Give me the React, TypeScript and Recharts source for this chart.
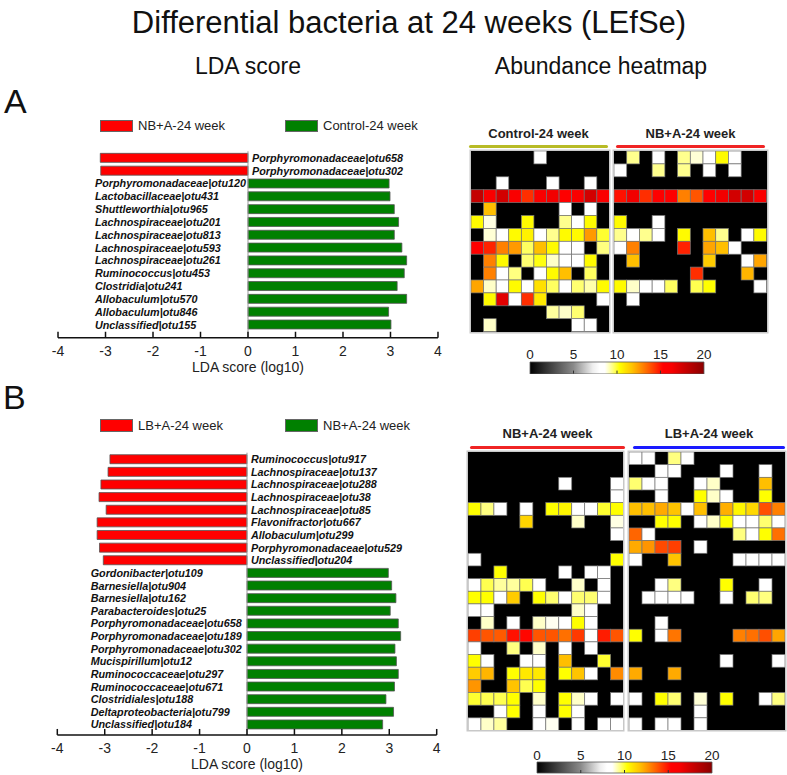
import React from 'react';
import {
  BarChart,
  Bar,
  Cell,
  XAxis,
  YAxis,
  ReferenceLine,
  LabelList,
  ScatterChart,
  Scatter,
} from 'recharts';

const FONT = '"Liberation Sans", Arial, Helvetica, sans-serif';

// ---------- panel A: LDA scores ----------
const taxaA = [
  'Porphyromonadaceae|otu658',
  'Porphyromonadaceae|otu302',
  'Porphyromonadaceae|otu120',
  'Lactobacillaceae|otu431',
  'Shuttleworthia|otu965',
  'Lachnospiraceae|otu201',
  'Lachnospiraceae|otu813',
  'Lachnospiraceae|otu593',
  'Lachnospiraceae|otu261',
  'Ruminococcus|otu453',
  'Clostridia|otu241',
  'Allobaculum|otu570',
  'Allobaculum|otu846',
  'Unclassified|otu155',
];
const ldaA = [-3.11, -3.1, 2.97, 2.99, 3.08, 3.17, 3.08, 3.24, 3.34, 3.29, 3.14, 3.34, 2.96, 3.01];

// ---------- panel B: LDA scores ----------
const taxaB = [
  'Ruminococcus|otu917',
  'Lachnospiraceae|otu137',
  'Lachnospiraceae|otu288',
  'Lachnospiraceae|otu38',
  'Lachnospiraceae|otu85',
  'Flavonifractor|otu667',
  'Allobaculum|otu299',
  'Porphyromonadaceae|otu529',
  'Unclassified|otu204',
  'Gordonibacter|otu109',
  'Barnesiella|otu904',
  'Barnesiella|otu162',
  'Parabacteroides|otu25',
  'Porphyromonadaceae|otu658',
  'Porphyromonadaceae|otu189',
  'Porphyromonadaceae|otu302',
  'Mucispirillum|otu12',
  'Ruminococcaceae|otu297',
  'Ruminococcaceae|otu671',
  'Clostridiales|otu188',
  'Deltaproteobacteria|otu799',
  'Unclassified|otu184',
];
const ldaB = [
  -2.89, -2.93, -3.08, -3.12, -2.97, -3.16, -3.16, -3.11, -3.03,
  2.98, 3.05, 3.14, 3.02, 3.19, 3.24, 3.12, 3.15, 3.19, 3.11, 2.93, 3.09, 2.86,
];

const ldaTicks = [-4, -3, -2, -1, 0, 1, 2, 3, 4];
const legendA = ['NB+A-24 week', 'Control-24 week'];
const legendB = ['LB+A-24 week', 'NB+A-24 week'];

// ---------- heatmaps (rows = taxa, columns = samples) ----------
const heatA_control = [
  [0, 0, 0, 0, 0, 8.5, 0, 0, 0, 0, 0],
  [0, 0, 0, 0, 0, 0, 0, 0, 0, 0, 0],
  [0, 0, 8.5, 0, 0, 0, 8.5, 0, 0, 8.5, 0],
  [18, 16, 17.5, 16, 14.5, 16, 16.5, 15.5, 16, 17.5, 16],
  [0, 11.8, 0, 0, 0, 0, 0, 8.5, 0, 8.5, 0],
  [10.4, 8.8, 0, 0, 10.4, 0, 0, 9.4, 8.5, 10.4, 0],
  [0, 8.9, 8.5, 10.4, 10.6, 8.5, 9.4, 10.4, 10.4, 12.5, 10],
  [15.5, 14.7, 13, 12.5, 9.7, 11.8, 10.4, 8.5, 8.5, 0, 9.5],
  [0, 13, 10.4, 0, 9.6, 10.2, 9, 8.5, 8.5, 10.4, 0],
  [0, 13, 8.5, 9.5, 0, 8.5, 10.4, 11.8, 0, 9.7, 0],
  [12.3, 9, 8.5, 10.4, 8.5, 11, 9.7, 8.5, 9.6, 9.2, 10.4],
  [0, 10.4, 17, 8.5, 14.5, 10.8, 0, 0, 0, 0, 8.5],
  [0, 0, 0, 0, 0, 0, 9.3, 9, 9.6, 0, 0],
  [0, 9, 0, 0, 0, 0, 0, 0, 8.5, 8.5, 0],
];
const heatA_nb = [
  [0, 9.4, 0, 8.5, 0, 9.4, 8.9, 8.5, 10.4, 8.5, 0, 0],
  [8.5, 0, 0, 9.4, 0, 9.4, 0, 8.5, 0, 8.5, 0, 0],
  [0, 0, 0, 0, 0, 0, 0, 0, 0, 0, 0, 0],
  [15, 16.5, 14.5, 15.5, 15.5, 13, 13.8, 15.3, 16.5, 17.5, 17.5, 16],
  [0, 0, 0, 0, 0, 0, 0, 0, 0, 0, 0, 0],
  [10.4, 0, 0, 8.5, 0, 0, 0, 0, 0, 0, 0, 0],
  [9.4, 8.5, 9.4, 8.5, 0, 10.4, 0, 11.8, 9.4, 0, 8.5, 10.4],
  [8.5, 13, 0, 0, 0, 14.7, 0, 12.3, 11.8, 8.5, 0, 0],
  [0, 11.8, 0, 0, 0, 0, 0, 11.5, 0, 0, 8.5, 12.3],
  [0, 0, 0, 0, 0, 0, 14.5, 0, 0, 0, 12, 0],
  [10.4, 9, 8.5, 8.5, 9.7, 0, 9.8, 10.3, 0, 0, 0, 8.5],
  [0, 8.5, 0, 0, 0, 0, 0, 0, 0, 0, 0, 0],
  [0, 0, 0, 0, 0, 0, 0, 0, 0, 0, 0, 0],
  [0, 0, 0, 0, 0, 0, 0, 0, 0, 0, 0, 0],
];
const heatB_nb = [
  [0, 0, 0, 0, 0, 0, 0, 0, 0, 0, 0, 0],
  [0, 0, 0, 0, 0, 0, 0, 0, 0, 0, 0, 0],
  [0, 0, 0, 0, 0, 0, 0, 8.5, 0, 0, 0, 8.5],
  [0, 0, 0, 0, 0, 0, 0, 0, 0, 0, 0, 8.5],
  [10.3, 9.5, 8.5, 0, 8.5, 0, 10.3, 10.5, 8.5, 8.5, 10, 10.3],
  [0, 0, 0, 0, 11.3, 0, 0, 0, 9, 0, 0, 8.8],
  [0, 0, 0, 0, 0, 0, 0, 0, 0, 0, 0, 8.5],
  [0, 0, 0, 0, 0, 0, 0, 0, 0, 0, 0, 0],
  [8.5, 0, 0, 0, 0, 0, 0, 0, 0, 0, 0, 10.3],
  [0, 0, 10.3, 0, 0, 0, 0, 8.5, 0, 8.5, 8.5, 0],
  [8.5, 9.8, 9.3, 9.3, 9.8, 8.5, 0, 0, 9, 0, 8.5, 0],
  [10.3, 10.3, 8.5, 11.5, 0, 10.3, 9.6, 8.5, 9.6, 9.6, 8.5, 0],
  [8.5, 8.6, 0, 0, 0, 0, 0, 0, 9, 8.5, 0, 0],
  [0, 9, 0, 8.5, 0, 9, 8.7, 8.5, 10.3, 8.5, 0, 0],
  [14.2, 13.8, 13.7, 15, 15.2, 13.8, 13.8, 13.3, 14.3, 8.5, 14.8, 13.8],
  [8.5, 0, 0, 9.5, 0, 9, 0, 8.5, 0, 8.5, 0, 0],
  [10.3, 8.5, 0, 0, 8.5, 8.5, 0, 11.8, 0, 0, 10, 0],
  [11.5, 12, 0, 10.3, 10.8, 10.8, 0, 10.3, 11.7, 8.5, 0, 12.8],
  [12.6, 0, 0, 11.7, 9.8, 10.3, 0, 0, 0, 0, 0, 0],
  [10, 9.8, 9.8, 10.3, 0, 9, 0, 10.3, 9, 8.5, 0, 8.5],
  [0, 0, 8.5, 10.3, 0, 8.5, 0, 10.3, 8.5, 0, 0, 0],
  [8.5, 9, 9.3, 0, 0, 8.5, 8.7, 0, 8.5, 0, 8.5, 8.5],
];
const heatB_lb = [
  [8.5, 8.5, 0, 9.5, 8.5, 0, 0, 0, 0, 0, 0, 0],
  [0, 0, 8.5, 8.5, 0, 0, 0, 8.5, 0, 0, 8.5, 0],
  [9.6, 8.5, 8.5, 0, 0, 8.5, 9, 0, 0, 0, 11.8, 0],
  [0, 0, 8.5, 0, 0, 10.3, 9, 8.5, 0, 0, 10.3, 0],
  [11.8, 11.8, 12.2, 11.7, 8.5, 11.8, 0, 12.1, 10.5, 11.2, 13.9, 13],
  [0, 0, 10.3, 10.3, 0, 8.5, 9, 10.3, 8.5, 8.5, 9.6, 8.5],
  [13.5, 8.5, 0, 0, 0, 0, 0, 0, 9.5, 8.5, 10.3, 13.3],
  [12.2, 12.6, 14, 14.2, 0, 8.5, 0, 0, 0, 0, 0, 0],
  [8.5, 0, 0, 11.7, 0, 0, 0, 0, 8.5, 8.5, 8.5, 8.5],
  [0, 0, 0, 0, 0, 0, 0, 0, 0, 0, 0, 0],
  [0, 0, 8.5, 9.5, 0, 0, 0, 10.3, 0, 0, 8.5, 0],
  [0, 8.5, 8.5, 8.5, 8.5, 0, 0, 8.5, 0, 9.6, 9.5, 0],
  [0, 0, 0, 0, 0, 0, 0, 0, 0, 0, 0, 0],
  [0, 0, 8.5, 0, 0, 0, 0, 0, 0, 0, 0, 0],
  [10.3, 0, 8.5, 13.2, 0, 0, 0, 0, 13, 13.3, 13.9, 12.3],
  [0, 0, 0, 0, 0, 0, 0, 0, 0, 0, 0, 0],
  [0, 0, 0, 0, 0, 0, 0, 8.5, 0, 0, 0, 8.5],
  [12.2, 0, 0, 12.2, 0, 0, 0, 0, 0, 0, 0, 0],
  [0, 0, 0, 0, 0, 0, 0, 0, 0, 0, 0, 0],
  [8.5, 0, 10.3, 9.6, 0, 8.9, 0, 10.3, 0, 0, 8.5, 9.5],
  [0, 0, 0, 0, 0, 8.5, 0, 0, 0, 0, 0, 0],
  [8.5, 0, 8.5, 8.5, 0, 8.5, 0, 0, 0, 0, 0, 0],
];

const colorTicks = [0, 5, 10, 15, 20];
const colorbarData = [{ name: 'abundance', max: 20 }];

// colour map of the heatmap (value -> colour)
const HOT_STOPS: [number, string][] = [
  [0, '#000000'],
  [5, '#8a8a8a'],
  [7.2, '#eeeeee'],
  [8, '#ffffff'],
  [8.6, '#ffffff'],
  [9, '#ffffc8'],
  [9.5, '#ffff80'],
  [10.3, '#ffff00'],
  [11, '#ffe000'],
  [11.7, '#ffc400'],
  [12.3, '#ffa500'],
  [13, '#ff8000'],
  [14, '#ff4a00'],
  [15.3, '#ff0000'],
  [16.3, '#f80000'],
  [17.5, '#d20000'],
  [20, '#8b0000'],
];

const hexToRgb = (h: string) => [1, 3, 5].map((i) => parseInt(h.slice(i, i + 2), 16));

const hotColor = (v: number) => {
  if (v <= HOT_STOPS[0][0]) return HOT_STOPS[0][1];
  for (let i = 1; i < HOT_STOPS.length; i++) {
    const [v1, c1] = HOT_STOPS[i];
    if (v <= v1) {
      const [v0, c0] = HOT_STOPS[i - 1];
      const t = (v - v0) / (v1 - v0);
      const a = hexToRgb(c0);
      const b = hexToRgb(c1);
      const m = a.map((x, k) => Math.round(x + (b[k] - x) * t));
      return `rgb(${m[0]},${m[1]},${m[2]})`;
    }
  }
  return HOT_STOPS[HOT_STOPS.length - 1][1];
};

// ---------- LDA bar chart ----------
const LdaTick = (props: any) => {
  const { x, y, payload } = props;
  return (
    <g>
      <line x1={x} x2={x} y1={y} y2={y - 6} stroke="#111" strokeWidth={1.5} />
      <text x={x} y={y + 18} textAnchor="middle" fontSize={14} fill="#222" fontFamily={FONT}>
        {payload.value}
      </text>
    </g>
  );
};

interface LdaChartProps {
  taxa: string[];
  scores: number[];
  top: number;
  marginTop: number;
  rowBand: number;
  axisPad: number;
  plotLeft: number;
  plotRight: number;
  greenLabelX: number;
}

const LdaChart = ({ taxa, scores, top, marginTop, rowBand, axisPad, plotLeft, plotRight, greenLabelX }: LdaChartProps) => {
  const width = 460;
  const data = taxa.map((name, i) => ({ name, score: scores[i] }));
  const plotH = taxa.length * rowBand + axisPad;
  const height = marginTop + plotH + 36 + 4;
  const zeroX = (plotLeft + plotRight) / 2;

  const renderName = (props: any) => {
    const vb = props.viewBox && props.viewBox.x !== undefined ? props.viewBox : props;
    const x0 = Math.min(vb.x, vb.x + vb.width);
    const isRed = x0 < zeroX - 1;
    const tx = isRed ? zeroX + 4 : greenLabelX;
    return (
      <text
        x={tx}
        y={vb.y + vb.height / 2}
        dominantBaseline="central"
        fontSize={10.8}
        fontWeight="bold"
        fontStyle="italic"
        fill="#111"
        fontFamily={FONT}
      >
        {props.value}
      </text>
    );
  };

  return (
    <div style={{ position: 'absolute', left: 0, top }}>
      <BarChart
        width={width}
        height={height}
        layout="vertical"
        data={data}
        margin={{ top: marginTop, right: width - plotRight, bottom: 4, left: plotLeft }}
        barCategoryGap="16%"
      >
        <XAxis
          type="number"
          domain={[-4, 4]}
          ticks={ldaTicks}
          interval={0}
          height={36}
          tickSize={0}
          tickMargin={0}
          tickLine={false}
          axisLine={{ stroke: '#111', strokeWidth: 1.5 }}
          tick={<LdaTick />}
          label={{
            value: 'LDA score (log10)',
            position: 'insideBottom',
            offset: 2,
            fontSize: 14,
            fill: '#222',
            fontFamily: FONT,
          }}
        />
        <YAxis type="category" dataKey="name" hide padding={{ top: 0, bottom: axisPad }} />
        <ReferenceLine x={0} stroke="#9a9a9a" strokeWidth={1} />
        <Bar dataKey="score" isAnimationActive={false} stroke="#555" strokeWidth={0.8}>
          {data.map((d) => (
            <Cell key={d.name} fill={d.score < 0 ? '#ff0000' : '#008000'} />
          ))}
          <LabelList dataKey="name" content={renderName} />
        </Bar>
      </BarChart>
    </div>
  );
};

const LdaLegend = ({ labels, top }: { labels: string[]; top: number }) => {
  const items = [
    { label: labels[0], color: '#ff0000', x: 100 },
    { label: labels[1], color: '#008000', x: 285 },
  ];
  return (
    <>
      {items.map((it) => (
        <div key={it.label} style={{ position: 'absolute', left: it.x, top, height: 12, display: 'flex', alignItems: 'center' }}>
          <div style={{ width: 31, height: 10.5, background: it.color, border: '1px solid #666' }} />
          <span style={{ marginLeft: 5, fontSize: 13, color: '#222', whiteSpace: 'nowrap', lineHeight: '12px' }}>{it.label}</span>
        </div>
      ))}
    </>
  );
};

// ---------- heatmap ----------
interface HeatmapProps {
  matrix: number[][];
  left: number;
  top: number;
  width: number;
  height: number;
}

const Heatmap = ({ matrix, left, top, width, height }: HeatmapProps) => {
  const nRows = matrix.length;
  const nCols = matrix[0].length;
  const cellW = width / nCols;
  const cellH = height / nRows;
  const cells = matrix
    .flatMap((row, r) => row.map((v, c) => ({ col: c + 0.5, row: r + 0.5, v })))
    .sort((a, b) => (a.v > 0 ? 1 : 0) - (b.v > 0 ? 1 : 0));

  const shape = (p: any) => {
    const v = p.payload ? p.payload.v : p.v;
    return (
      <rect
        x={p.cx - cellW / 2}
        y={p.cy - cellH / 2}
        width={cellW}
        height={cellH}
        fill={hotColor(v)}
        stroke={v > 0 ? '#777' : hotColor(v)}
        strokeWidth={0.7}
      />
    );
  };

  return (
    <div
      style={{
        position: 'absolute',
        left,
        top,
        width,
        height,
        background: '#000',
        boxShadow: '0 0 0 1.5px #c8c8c8',
      }}
    >
      <ScatterChart width={width} height={height} margin={{ top: 0, right: 0, bottom: 0, left: 0 }}>
        <XAxis type="number" dataKey="col" domain={[0, nCols]} hide />
        <YAxis type="number" dataKey="row" domain={[0, nRows]} reversed hide />
        <Scatter data={cells} shape={shape} isAnimationActive={false} />
      </ScatterChart>
    </div>
  );
};

const GroupHeader = ({ label, color, x1, x2, y }: { label: string; color: string; x1: number; x2: number; y: number }) => (
  <>
    <div
      style={{
        position: 'absolute',
        left: x1 - 30,
        width: x2 - x1 + 60,
        top: y - 20,
        textAlign: 'center',
        fontSize: 13,
        fontWeight: 'bold',
        color: '#222',
        lineHeight: '14px',
      }}
    >
      {label}
    </div>
    <div style={{ position: 'absolute', left: x1, width: x2 - x1, top: y - 1.5, height: 3, background: color, borderRadius: 2 }} />
  </>
);

// ---------- colour bar ----------
const ColorBar = ({ id, left, top, width, barH }: { id: string; left: number; top: number; width: number; barH: number }) => {
  const CbTick = (props: any) => {
    const { x, y, payload } = props;
    const inner = payload.value > colorTicks[0] && payload.value < colorTicks[colorTicks.length - 1];
    return (
      <g>
        <text x={x} y={y - 2.5} textAnchor="middle" fontSize={13.5} fill="#222" fontFamily={FONT}>
          {payload.value}
        </text>
        {inner && <line x1={x} x2={x} y1={y + barH - 3} y2={y + barH} stroke="#333" strokeWidth={1} />}
      </g>
    );
  };
  const maxV = colorTicks[colorTicks.length - 1];
  return (
    <div style={{ position: 'absolute', left: left - 12, top: top - 16 }}>
      <BarChart
        width={width + 24}
        height={16 + barH + 1}
        layout="vertical"
        data={colorbarData}
        margin={{ top: 0, right: 12, bottom: 1, left: 12 }}
        barCategoryGap={0}
      >
        <defs>
          <linearGradient id={id} x1="0" y1="0" x2="1" y2="0">
            {HOT_STOPS.map(([v, c]) => (
              <stop key={v} offset={v / maxV} stopColor={c} />
            ))}
          </linearGradient>
        </defs>
        <XAxis
          type="number"
          orientation="top"
          domain={[0, maxV]}
          ticks={colorTicks}
          interval={0}
          height={16}
          tickSize={0}
          tickMargin={0}
          axisLine={false}
          tickLine={false}
          tick={<CbTick />}
        />
        <YAxis type="category" dataKey="name" hide />
        <Bar dataKey="max" fill={`url(#${id})`} stroke="#555" strokeWidth={0.8} isAnimationActive={false} />
      </BarChart>
    </div>
  );
};

const textStyle = (left: number, top: number, size: number, width = 0): React.CSSProperties => ({
  position: 'absolute',
  left: width ? left - width / 2 : left,
  width: width || undefined,
  top,
  fontSize: size,
  lineHeight: `${size}px`,
  textAlign: width ? 'center' : 'left',
  color: '#111',
  whiteSpace: 'nowrap',
});

export default function App() {
  return (
    <div
      style={{
        position: 'absolute',
        left: 0,
        top: 0,
        width: 787,
        height: 775,
        background: '#fff',
        fontFamily: FONT,
        overflow: 'hidden',
      }}
    >
      <div style={textStyle(409, 7, 31, 700)}>Differential bacteria at 24 weeks (LEfSe)</div>
      <div style={textStyle(248, 55, 23, 200)}>LDA score</div>
      <div style={textStyle(601, 55, 23, 300)}>Abundance heatmap</div>
      <div style={textStyle(4, 84, 34)}>A</div>
      <div style={textStyle(3, 380, 34)}>B</div>

      {/* panel A */}
      <LdaLegend labels={legendA} top={120} />
      <LdaChart
        taxa={taxaA}
        scores={ldaA}
        top={140}
        marginTop={11.3}
        rowBand={12.82}
        axisPad={7}
        plotLeft={58}
        plotRight={438}
        greenLabelX={95}
      />
      <GroupHeader label="Control-24 week" color="#b8bb26" x1={469} x2={608} y={146.7} />
      <GroupHeader label="NB+A-24 week" color="#f02424" x1={616} x2={765} y={146.7} />
      <Heatmap matrix={heatA_control} left={470.7} top={151.2} width={138.4} height={180.6} />
      <Heatmap matrix={heatA_nb} left={614} top={151.2} width={152.6} height={180.6} />
      <ColorBar id="hotA" left={530} top={361.7} width={174} barH={11.6} />

      {/* panel B */}
      <LdaLegend labels={legendB} top={419.5} />
      <LdaChart
        taxa={taxaB}
        scores={ldaB}
        top={440}
        marginTop={12.7}
        rowBand={12.63}
        axisPad={4.4}
        plotLeft={57.3}
        plotRight={436.7}
        greenLabelX={90.7}
      />
      <GroupHeader label="NB+A-24 week" color="#f02424" x1={470} x2={625} y={447} />
      <GroupHeader label="LB+A-24 week" color="#1a1aff" x1={633} x2={785} y={447} />
      <Heatmap matrix={heatB_nb} left={467.7} top={451.5} width={155.6} height={278.5} />
      <Heatmap matrix={heatB_lb} left={629.3} top={451.5} width={156} height={278.5} />
      <ColorBar id="hotB" left={536.7} top={762} width={175} barH={11} />
    </div>
  );
}
